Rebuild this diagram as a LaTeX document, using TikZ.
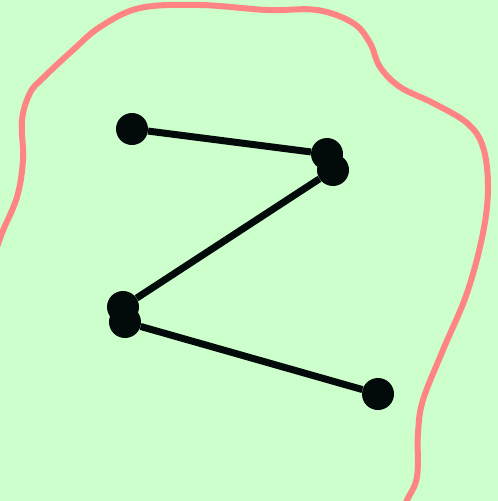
\documentclass[tikz,border=0pt]{standalone}
\usepackage{tikz}
\usetikzlibrary{calc}

\definecolor{bgreen}{HTML}{CCFFCC}
\definecolor{bpink}{HTML}{FF8484}
\definecolor{dotblack}{HTML}{020A0A}

\begin{document}
\begin{tikzpicture}[x=1pt, y=-1pt,
    dot/.style={circle, fill=dotblack, inner sep=0pt, minimum size=32pt},
    link/.style={draw=dotblack, line width=7pt},
    blob/.style={draw=bpink, line width=6pt, line cap=round}]
  \fill[bgreen] (0,0) rectangle (498,501);
  \useasboundingbox (0,0) rectangle (498,501);
  \clip (0,0) rectangle (498,501);

  % outline
  \draw[blob] plot[smooth, tension=0.6] coordinates {
    (-8,262) (2,233) (17,197) (23,160) (22,120) (30,93) (43,78) (73,50)
    (100,27) (140,8) (200,5) (267,10) (317,10) (353,23) (370,43) (380,67)
    (400,87) (433,103) (467,123) (483,147) (488,187) (483,233) (467,293)
    (443,350) (423,400) (418,433) (417,477) (407,500) (402,512)};

  % zigzag
  \node[dot] (a) at (132,129) {};
  \node[dot] (b) at (327,154) {};
  \node[dot] (c) at (333,170) {};
  \node[dot] (d) at (123,307) {};
  \node[dot] (e) at (125,322) {};
  \node[dot] (f) at (378,394) {};
  \draw[link] (a) -- (b)   (c) -- (d)   (e) -- (f);
\end{tikzpicture}
\end{document}
